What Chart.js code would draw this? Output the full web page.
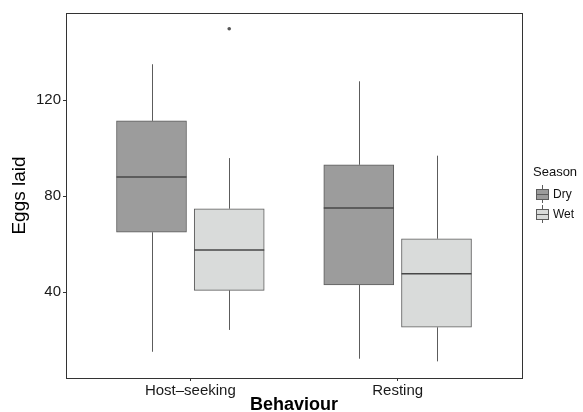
<!DOCTYPE html>
<html>
<head>
<meta charset="utf-8">
<script src="https://cdn.jsdelivr.net/npm/chart.js@4"></script>
<style>
  html, body { margin: 0; padding: 0; background: #fff; }
  #wrap { width: 583px; height: 412px; position: relative; }
</style>
</head>
<body>
<div id="wrap"><canvas id="myChart" width="583" height="412"></canvas></div>
<script>
"use strict";

// data
var categories = ["Host\u2013seeking", "Resting"];
var seasons = ["Dry", "Wet"];
var yTicks = [40, 80, 120];

// box stats per category: [min, q1, median, q3, max]
var dryStats = [
    [15.1, 64.9, 87.9, 111.3, 134.9],
    [12.2, 43.0, 75.0, 93.0, 127.8]
];
var wetStats = [
    [24.2, 40.7, 57.5, 74.7, 95.8],
    [11.1, 25.3, 47.6, 62.2, 96.8]
];
var wetOutliers = [[149.7], []];

var fillCols = ["#9c9c9c", "#d9dbda"];
var lineCol = "#5c5c5c";
var medCol = "#474747";
var dodge = 0.1875;

function boxData(stats, shift) {
    return stats.map(function (s, i) {
        return { x: i + 1 + shift, y: [s[1], s[3]] };
    });
}

function outlierData(outs, shift) {
    var pts = [];
    outs.forEach(function (list, i) {
        list.forEach(function (v) { pts.push({ x: i + 1 + shift, y: v }); });
    });
    return pts;
}

var allStats = [dryStats, wetStats];
var shifts = [-dodge, dodge];

// whiskers under the boxes, medians on top
var boxPlugin = {
    id: "boxParts",
    beforeDatasetsDraw: function (chart) {
        var ctx = chart.ctx, xs = chart.scales.x, ys = chart.scales.y;
        ctx.save();
        ctx.strokeStyle = lineCol;
        ctx.lineWidth = 1;
        allStats.forEach(function (stats, d) {
            stats.forEach(function (s, i) {
                var px = Math.round(xs.getPixelForValue(i + 1 + shifts[d])) + 0.5;
                ctx.beginPath();
                ctx.moveTo(px, ys.getPixelForValue(s[0]));
                ctx.lineTo(px, ys.getPixelForValue(s[1]));
                ctx.moveTo(px, ys.getPixelForValue(s[3]));
                ctx.lineTo(px, ys.getPixelForValue(s[4]));
                ctx.stroke();
            });
        });
        ctx.restore();
    },
    afterDatasetsDraw: function (chart) {
        var ctx = chart.ctx, ys = chart.scales.y, a = chart.chartArea;
        ctx.save();
        ctx.strokeStyle = medCol;
        ctx.lineWidth = 1.6;
        allStats.forEach(function (stats, d) {
            var meta = chart.getDatasetMeta(d);
            stats.forEach(function (s, i) {
                var bar = meta.data[i];
                var half = bar.width / 2;
                var py = ys.getPixelForValue(s[2]);
                ctx.beginPath();
                ctx.moveTo(bar.x - half, py);
                ctx.lineTo(bar.x + half, py);
                ctx.stroke();
            });
        });
        // panel border
        ctx.strokeStyle = "#333";
        ctx.lineWidth = 1;
        ctx.strokeRect(Math.round(a.left) + 0.5, Math.round(a.top) + 0.5,
            Math.round(a.right - a.left), Math.round(a.bottom - a.top));

        // legend
        var lx = 533, ly = 172;
        ctx.fillStyle = "#111";
        ctx.font = "13px 'Liberation Sans', Arial, sans-serif";
        ctx.textBaseline = "middle";
        ctx.textAlign = "left";
        ctx.fillText("Season", lx, ly);
        seasons.forEach(function (name, k) {
            var cy = 194 + k * 20;
            var kx = 536, kw = 12;
            ctx.strokeStyle = lineCol;
            ctx.lineWidth = 1;
            ctx.beginPath();
            ctx.moveTo(kx + kw / 2 + 0.5, cy - 9);
            ctx.lineTo(kx + kw / 2 + 0.5, cy + 9);
            ctx.stroke();
            ctx.fillStyle = fillCols[k];
            ctx.fillRect(kx, cy - 5, kw, 10);
            ctx.strokeRect(kx + 0.5, cy - 4.5, kw, 10);
            ctx.beginPath();
            ctx.moveTo(kx, cy + 0.5);
            ctx.lineTo(kx + kw, cy + 0.5);
            ctx.stroke();
            ctx.fillStyle = "#111";
            ctx.font = "12px 'Liberation Sans', Arial, sans-serif";
            ctx.fillText(name, 553, cy + 1);
        });
        ctx.restore();
    }
};

var ctx = document.getElementById("myChart").getContext("2d");
var chart = new Chart(ctx, {
    type: "bar",
    data: {
        datasets: [{
            label: seasons[0],
            data: boxData(dryStats, -dodge),
            backgroundColor: fillCols[0],
            borderColor: lineCol,
            borderWidth: 1,
            borderSkipped: false,
            barThickness: 70,
            grouped: false
        }, {
            label: seasons[1],
            data: boxData(wetStats, dodge),
            backgroundColor: fillCols[1],
            borderColor: lineCol,
            borderWidth: 1,
            borderSkipped: false,
            barThickness: 70,
            grouped: false
        }, {
            type: "scatter",
            label: "outliers",
            data: outlierData(wetOutliers, dodge),
            pointRadius: 1.8,
            pointBackgroundColor: "#555",
            pointBorderWidth: 0
        }]
    },
    plugins: [boxPlugin],
    options: {
        responsive: false,
        animation: false,
        layout: { padding: { top: 13, right: 61, left: 0, bottom: 0 } },
        plugins: { legend: { display: false }, tooltip: { enabled: false } },
        scales: {
            x: {
                type: "linear",
                offset: false,
                min: 0.4,
                max: 2.6,
                afterBuildTicks: function (s) {
                    s.ticks = categories.map(function (c, i) { return { value: i + 1 }; });
                },
                afterFit: function (s) { s.height = 34; },
                ticks: {
                    callback: function (v) { return categories[v - 1]; },
                    color: "#1a1a1a",
                    font: { size: 15, family: "'Liberation Sans', Arial, sans-serif" },
                    padding: 1,
                    maxRotation: 0
                },
                grid: { offset: false, drawOnChartArea: false, drawTicks: true, tickLength: 3, color: "#333" },
                border: { display: true, color: "#333" },
                title: {
                    display: true,
                    text: "Behaviour",
                    color: "#000",
                    font: { size: 18, weight: "bold", family: "'Liberation Sans', Arial, sans-serif", lineHeight: 1 },
                    padding: { top: 0, bottom: -2 }
                }
            },
            y: {
                type: "linear",
                min: 4.17,
                max: 156.25,
                afterBuildTicks: function (s) {
                    s.ticks = yTicks.map(function (v) { return { value: v }; });
                },
                afterFit: function (s) { s.width = 66; },
                ticks: {
                    color: "#1a1a1a",
                    font: { size: 15, family: "'Liberation Sans', Arial, sans-serif" },
                    padding: 2
                },
                grid: { drawOnChartArea: false, drawTicks: true, tickLength: 3, color: "#333" },
                border: { display: true, color: "#333" },
                title: {
                    display: true,
                    text: "Eggs laid",
                    color: "#000",
                    font: { size: 19, family: "'Liberation Sans', Arial, sans-serif", lineHeight: 1 },
                    padding: { top: 10, bottom: 0 }
                }
            }
        }
    }
});
</script>
</body>
</html>
